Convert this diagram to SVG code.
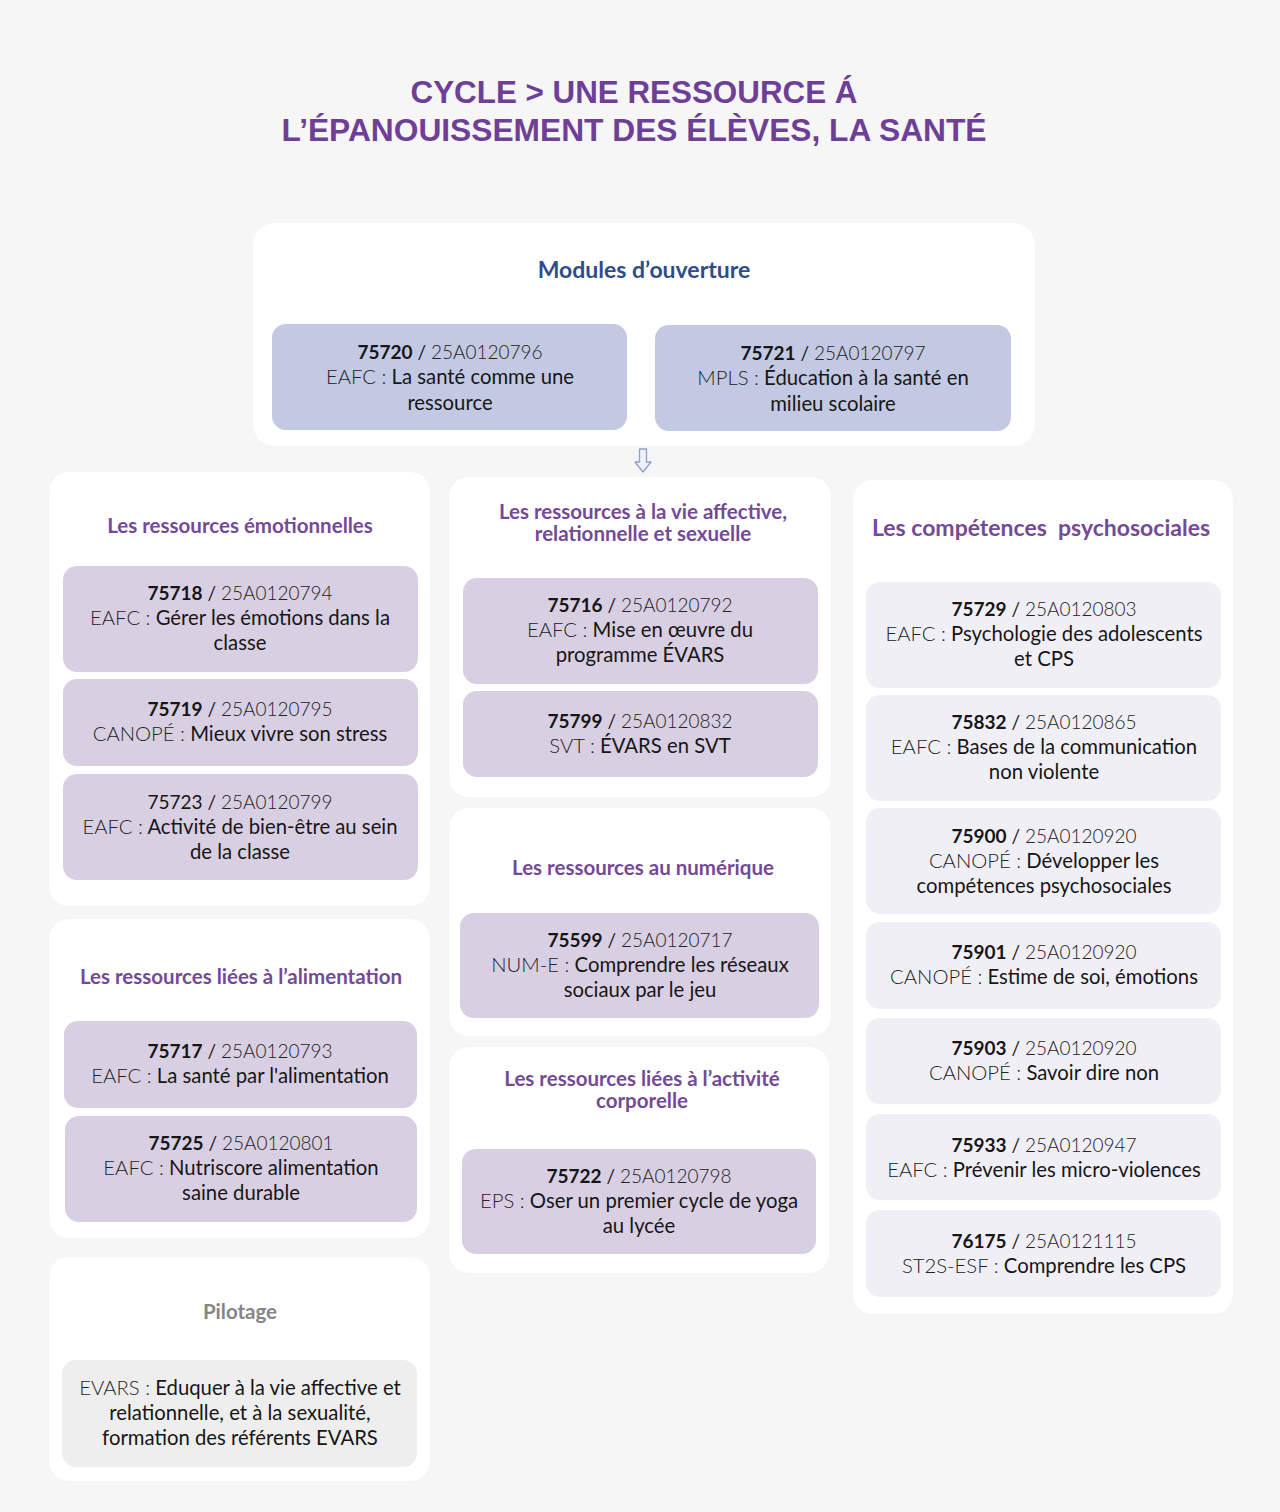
<svg xmlns="http://www.w3.org/2000/svg" width="1280" height="1512" viewBox="0 0 1280 1512">
<style>
.bg{fill:#f6f6f6}
.panel{fill:#ffffff}
.cb{fill:#c3c9e3}
.cp{fill:#d9cfe3}
.cl{fill:#f1eff6}
.cg{fill:#eeeeee}
.t{font-family:Lato,"Liberation Sans",sans-serif;font-size:20.3px;fill:#161616;text-anchor:middle}
.a{font-size:19px}
.n{font-weight:700}
.lt{font-weight:300;fill:#222}
.h{font-family:Lato,"Liberation Sans",sans-serif;font-size:20.5px;font-weight:700;fill:#744a97;text-anchor:middle}
.hb{fill:#2e4d8a;font-size:23px}
.hg{fill:#858585}
.title{font-family:"Liberation Sans",sans-serif;font-size:31px;font-weight:700;fill:#6e3f97;text-anchor:middle}
</style>
<rect class="bg" x="0" y="0" width="1280" height="1512"/>
<g id="title">
<text class="title" x="634" y="103" textLength="447" lengthAdjust="spacingAndGlyphs">CYCLE &gt; UNE RESSOURCE Á</text>
<text class="title" x="634" y="141" textLength="705" lengthAdjust="spacingAndGlyphs">L’ÉPANOUISSEMENT DES ÉLÈVES, LA SANTÉ</text>
</g>
<g id="modules">
<rect class="panel" x="253" y="223" width="782" height="223" rx="22"/>
<text class="h hb" x="644" y="278">Modules d’ouverture</text>
</g>
<g id="n75720">
<rect class="cb" x="272" y="324" width="355" height="106" rx="14"/>
<text class="t a" x="450" y="359"><tspan class="n">75720</tspan> / <tspan class="lt">25A0120796</tspan></text>
<text class="t" x="450" y="384"><tspan class="lt">EAFC :</tspan> La santé comme une</text>
<text class="t" x="450" y="410">ressource</text>
</g>
<g id="n75721">
<rect class="cb" x="655" y="325" width="356" height="106" rx="14"/>
<text class="t a" x="833" y="360"><tspan class="n">75721</tspan> / <tspan class="lt">25A0120797</tspan></text>
<text class="t" x="833" y="385"><tspan class="lt">MPLS :</tspan> Éducation à la santé en</text>
<text class="t" x="833" y="411">milieu scolaire</text>
</g>
<g id="connectors">
<path d="M639.5 449 H646.5 V462 H651 L643 472 L635 462 H639.5 Z" fill="#eef2f8" stroke="#8ea2c4" stroke-width="1.3" stroke-linejoin="round"/>
</g>
<g id="emotionnelles">
<rect class="panel" x="49" y="472" width="381" height="434" rx="20"/>
<text class="h" x="240" y="533">Les ressources émotionnelles</text>
</g>
<g id="n75718">
<rect class="cp" x="63" y="566" width="355" height="106" rx="14"/>
<text class="t a" x="240" y="600"><tspan class="n">75718</tspan> / <tspan class="lt">25A0120794</tspan></text>
<text class="t" x="240" y="625"><tspan class="lt">EAFC :</tspan> Gérer les émotions dans la</text>
<text class="t" x="240" y="650">classe</text>
</g>
<g id="n75719">
<rect class="cp" x="63" y="679" width="355" height="87" rx="14"/>
<text class="t a" x="240" y="716"><tspan class="n">75719</tspan> / <tspan class="lt">25A0120795</tspan></text>
<text class="t" x="240" y="741"><tspan class="lt">CANOPÉ :</tspan> Mieux vivre son stress</text>
</g>
<g id="n75723">
<rect class="cp" x="63" y="774" width="355" height="106" rx="14"/>
<text class="t a" x="240" y="809">75723 / <tspan class="lt">25A0120799</tspan></text>
<text class="t" x="240" y="834"><tspan class="lt">EAFC :</tspan> Activité de bien-être au sein</text>
<text class="t" x="240" y="859">de la classe</text>
</g>
<g id="alimentation">
<rect class="panel" x="49" y="919" width="381" height="319" rx="20"/>
<text class="h" x="241" y="984">Les ressources liées à l’alimentation</text>
</g>
<g id="n75717">
<rect class="cp" x="64" y="1021" width="353" height="87" rx="14"/>
<text class="t a" x="240" y="1058"><tspan class="n">75717</tspan> / <tspan class="lt">25A0120793</tspan></text>
<text class="t" x="240" y="1083"><tspan class="lt">EAFC :</tspan> La santé par l'alimentation</text>
</g>
<g id="n75725">
<rect class="cp" x="65" y="1116" width="352" height="106" rx="14"/>
<text class="t a" x="241" y="1150"><tspan class="n">75725</tspan> / <tspan class="lt">25A0120801</tspan></text>
<text class="t" x="241" y="1175"><tspan class="lt">EAFC :</tspan> Nutriscore alimentation</text>
<text class="t" x="241" y="1200">saine durable</text>
</g>
<g id="pilotage">
<rect class="panel" x="49" y="1257" width="381" height="224" rx="20"/>
<text class="h hg" x="240" y="1319">Pilotage</text>
</g>
<g id="evars">
<rect class="cg" x="62" y="1360" width="355" height="107" rx="14"/>
<text class="t" x="240" y="1395"><tspan class="lt">EVARS :</tspan> Eduquer à la vie affective et</text>
<text class="t" x="240" y="1420">relationnelle, et à la sexualité,</text>
<text class="t" x="240" y="1445">formation des référents EVARS</text>
</g>
<g id="affective">
<rect class="panel" x="449" y="477" width="382" height="320" rx="20"/>
<text class="h" x="643" y="519">Les ressources à la vie affective,</text>
<text class="h" x="643" y="541">relationnelle et sexuelle</text>
</g>
<g id="n75716">
<rect class="cp" x="463" y="578" width="355" height="106" rx="14"/>
<text class="t a" x="640" y="612"><tspan class="n">75716</tspan> / <tspan class="lt">25A0120792</tspan></text>
<text class="t" x="640" y="637"><tspan class="lt">EAFC :</tspan> Mise en œuvre du</text>
<text class="t" x="640" y="662">programme ÉVARS</text>
</g>
<g id="n75799">
<rect class="cp" x="463" y="691" width="355" height="86" rx="14"/>
<text class="t a" x="640" y="728"><tspan class="n">75799</tspan> / <tspan class="lt">25A0120832</tspan></text>
<text class="t" x="640" y="753"><tspan class="lt">SVT :</tspan> ÉVARS en SVT</text>
</g>
<g id="numerique">
<rect class="panel" x="449" y="808" width="382" height="228" rx="20"/>
<text class="h" x="643" y="875">Les ressources au numérique</text>
</g>
<g id="n75599">
<rect class="cp" x="460" y="913" width="359" height="105" rx="14"/>
<text class="t a" x="640" y="947"><tspan class="n">75599</tspan> / <tspan class="lt">25A0120717</tspan></text>
<text class="t" x="640" y="972"><tspan class="lt">NUM-E :</tspan> Comprendre les réseaux</text>
<text class="t" x="640" y="997">sociaux par le jeu</text>
</g>
<g id="corporelle">
<rect class="panel" x="449" y="1047" width="380" height="226" rx="20"/>
<text class="h" x="642" y="1086">Les ressources liées à l’activité</text>
<text class="h" x="642" y="1108">corporelle</text>
</g>
<g id="n75722">
<rect class="cp" x="462" y="1149" width="354" height="105" rx="14"/>
<text class="t a" x="639" y="1183"><tspan class="n">75722</tspan> / <tspan class="lt">25A0120798</tspan></text>
<text class="t" x="639" y="1208"><tspan class="lt">EPS :</tspan> Oser un premier cycle de yoga</text>
<text class="t" x="639" y="1233">au lycée</text>
</g>
<g id="psychosociales">
<rect class="panel" x="853" y="480" width="380" height="834" rx="20"/>
<text class="h" x="1041" y="536" style="font-size:23px" xml:space="preserve">Les compétences  psychosociales</text>
</g>
<g id="n75729">
<rect class="cl" x="866" y="582" width="355" height="106" rx="14"/>
<text class="t a" x="1044" y="616"><tspan class="n">75729</tspan> / <tspan class="lt">25A0120803</tspan></text>
<text class="t" x="1044" y="641"><tspan class="lt">EAFC :</tspan> Psychologie des adolescents</text>
<text class="t" x="1044" y="666">et CPS</text>
</g>
<g id="n75832">
<rect class="cl" x="866" y="695" width="355" height="106" rx="14"/>
<text class="t a" x="1044" y="729"><tspan class="n">75832</tspan> / <tspan class="lt">25A0120865</tspan></text>
<text class="t" x="1044" y="754"><tspan class="lt">EAFC :</tspan> Bases de la communication</text>
<text class="t" x="1044" y="779">non violente</text>
</g>
<g id="n75900">
<rect class="cl" x="866" y="808" width="355" height="106" rx="14"/>
<text class="t a" x="1044" y="843"><tspan class="n">75900</tspan> / <tspan class="lt">25A0120920</tspan></text>
<text class="t" x="1044" y="868"><tspan class="lt">CANOPÉ :</tspan> Développer les</text>
<text class="t" x="1044" y="893">compétences psychosociales</text>
</g>
<g id="n75901">
<rect class="cl" x="866" y="922" width="355" height="87" rx="14"/>
<text class="t a" x="1044" y="959"><tspan class="n">75901</tspan> / <tspan class="lt">25A0120920</tspan></text>
<text class="t" x="1044" y="984"><tspan class="lt">CANOPÉ :</tspan> Estime de soi, émotions</text>
</g>
<g id="n75903">
<rect class="cl" x="866" y="1018" width="355" height="86" rx="14"/>
<text class="t a" x="1044" y="1055"><tspan class="n">75903</tspan> / <tspan class="lt">25A0120920</tspan></text>
<text class="t" x="1044" y="1080"><tspan class="lt">CANOPÉ :</tspan> Savoir dire non</text>
</g>
<g id="n75933">
<rect class="cl" x="866" y="1114" width="355" height="86" rx="14"/>
<text class="t a" x="1044" y="1152"><tspan class="n">75933</tspan> / <tspan class="lt">25A0120947</tspan></text>
<text class="t" x="1044" y="1177"><tspan class="lt">EAFC :</tspan> Prévenir les micro-violences</text>
</g>
<g id="n76175">
<rect class="cl" x="866" y="1210" width="355" height="87" rx="14"/>
<text class="t a" x="1044" y="1248"><tspan class="n">76175</tspan> / <tspan class="lt">25A0121115</tspan></text>
<text class="t" x="1044" y="1273"><tspan class="lt">ST2S-ESF :</tspan> Comprendre les CPS</text>
</g>
</svg>
